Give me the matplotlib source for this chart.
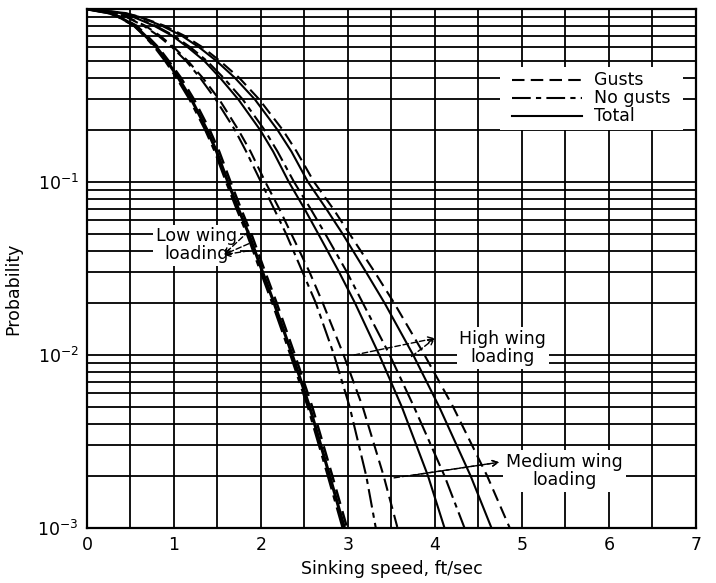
import matplotlib
matplotlib.use('Agg')
import matplotlib.pyplot as plt
from matplotlib.pyplot import MultipleLocator
from matplotlib.ticker import NullFormatter
from matplotlib.patches import Rectangle

prob = [1.0, 0.95, 0.9, 0.8, 0.7, 0.6, 0.5, 0.4, 0.3, 0.2, 0.15, 0.1,
        0.07, 0.05, 0.03, 0.02, 0.01, 0.005, 0.002, 0.001]

# low wing loading (three curves almost on top of each other)
low_total = [0, 0.25, 0.37, 0.55, 0.67, 0.80, 0.92, 1.05, 1.20, 1.38, 1.49, 1.62,
             1.74, 1.86, 2.02, 2.15, 2.36, 2.56, 2.79, 2.96]
low_gusts = [0, 0.26, 0.38, 0.57, 0.69, 0.82, 0.94, 1.08, 1.23, 1.41, 1.52, 1.65,
             1.77, 1.89, 2.05, 2.18, 2.39, 2.59, 2.82, 2.99]
low_nogusts = [0, 0.24, 0.36, 0.54, 0.66, 0.78, 0.90, 1.03, 1.18, 1.36, 1.47, 1.60,
               1.72, 1.84, 2.00, 2.13, 2.34, 2.54, 2.77, 2.94]

# medium wing loading
med_nogusts = [0, 0.31, 0.45, 0.65, 0.82, 0.98, 1.14, 1.30, 1.48, 1.70, 1.83, 2.00,
               2.15, 2.29, 2.48, 2.63, 2.84, 3.02, 3.21, 3.32]
med_gusts = [0, 0.32, 0.46, 0.67, 0.84, 1.00, 1.16, 1.33, 1.52, 1.74, 1.88, 2.05,
             2.21, 2.35, 2.56, 2.71, 2.95, 3.17, 3.41, 3.57]
med_total = [0, 0.37, 0.53, 0.77, 0.98, 1.16, 1.35, 1.53, 1.74, 1.99, 2.14, 2.32,
             2.50, 2.66, 2.90, 3.08, 3.36, 3.62, 3.92, 4.11]

# high wing loading
high_nogusts = [0, 0.38, 0.55, 0.79, 1.00, 1.19, 1.38, 1.57, 1.79, 2.04, 2.19, 2.38,
                2.57, 2.74, 2.99, 3.17, 3.48, 3.76, 4.11, 4.34]
high_total = [0, 0.42, 0.60, 0.86, 1.09, 1.29, 1.49, 1.70, 1.93, 2.19, 2.35, 2.54,
              2.75, 2.94, 3.21, 3.42, 3.75, 4.05, 4.41, 4.65]
high_gusts = [0, 0.43, 0.61, 0.89, 1.12, 1.33, 1.53, 1.75, 1.98, 2.25, 2.41, 2.61,
              2.83, 3.02, 3.31, 3.53, 3.88, 4.21, 4.60, 4.86]

x_ticks = [0, 1, 2, 3, 4, 5, 6, 7]
y_ticks = [1e-3, 1e-2, 1e-1]
y_tick_labels = [r'$\mathregular{10^{-3}}$', r'$\mathregular{10^{-2}}$', r'$\mathregular{10^{-1}}$']

DASH = (0, (6, 3))
DASHDOT = (0, (9, 2.5, 2.5, 2.5))

fig = plt.figure(figsize=(7.16, 5.83), dpi=100)
ax = fig.add_axes([0.1215, 0.0943, 0.8505, 0.8903])

ax.set_yscale('log')
ax.set_xlim(0, 7)
ax.set_ylim(1e-3, 1)
ax.xaxis.set_major_locator(MultipleLocator(1))
ax.xaxis.set_minor_locator(MultipleLocator(0.5))
ax.set_xticks(x_ticks)
ax.set_yticks(y_ticks)
ax.set_yticklabels(y_tick_labels)
ax.yaxis.set_minor_formatter(NullFormatter())
ax.tick_params(which='both', length=0, pad=6, labelsize=12.5, colors='black')
ax.grid(True, which='both', color='black', linewidth=1.3)
ax.set_axisbelow(True)
for s in ax.spines.values():
    s.set_linewidth(1.6)

# curves
ax.plot(low_total, prob, color='black', lw=2.2, ls='-', zorder=3)
ax.plot(low_gusts, prob, color='black', lw=1.8, ls=DASH, zorder=3)
ax.plot(low_nogusts, prob, color='black', lw=1.8, ls=DASHDOT, zorder=3)
ax.plot(med_nogusts, prob, color='black', lw=1.5, ls=DASHDOT, zorder=3)
ax.plot(med_gusts, prob, color='black', lw=1.5, ls=DASH, zorder=3)
ax.plot(med_total, prob, color='black', lw=1.5, ls='-', zorder=3)
ax.plot(high_nogusts, prob, color='black', lw=1.5, ls=DASHDOT, zorder=3)
ax.plot(high_total, prob, color='black', lw=1.5, ls='-', zorder=3)
ax.plot(high_gusts, prob, color='black', lw=1.5, ls=DASH, zorder=3)

# legend block
ax.add_patch(Rectangle((4.75, 0.2), 2.1, 0.26, facecolor='white', edgecolor='none', zorder=2))
ax.plot([4.88, 5.69], [0.39, 0.39], color='black', lw=1.5, ls=DASH, zorder=4)
ax.plot([4.88, 5.69], [0.305, 0.305], color='black', lw=1.5, ls=DASHDOT, zorder=4)
ax.plot([4.88, 5.69], [0.24, 0.24], color='black', lw=1.5, ls='-', zorder=4)
ax.text(5.83, 0.39, 'Gusts', fontsize=12.5, va='center', ha='left', zorder=4)
ax.text(5.83, 0.305, 'No gusts', fontsize=12.5, va='center', ha='left', zorder=4)
ax.text(5.83, 0.24, 'Total', fontsize=12.5, va='center', ha='left', zorder=4)

box = dict(facecolor='white', edgecolor='none', pad=2)
arrow = dict(arrowstyle='->', color='black', lw=1.0, ls=(0, (4, 2)), shrinkA=0, shrinkB=0)

ax.text(1.26, 0.043, 'Low wing\nloading', fontsize=12.5, ha='center', va='center',
        linespacing=1.0, bbox=box, zorder=4)
for tgt in [(1.86, 0.052), (1.86, 0.044), (1.86, 0.040)]:
    ax.annotate('', xy=(1.57, 0.038), xytext=tgt, arrowprops=arrow, zorder=4)

ax.text(4.78, 0.011, 'High wing\nloading', fontsize=12.5, ha='center', va='center',
        linespacing=1.0, bbox=box, zorder=4)
for tgt in [(3.07, 0.0100), (3.73, 0.0098)]:
    ax.annotate('', xy=(4.0, 0.0125), xytext=tgt, arrowprops=arrow, zorder=4)

ax.text(5.49, 0.00213, 'Medium wing\nloading', fontsize=12.5, ha='center', va='center',
        linespacing=1.0, bbox=box, zorder=4)
for tgt in [(3.53, 0.00195), (3.75, 0.00202)]:
    ax.annotate('', xy=(4.74, 0.0024), xytext=tgt, arrowprops=arrow, zorder=4)

ax.set_xlabel('Sinking speed, ft/sec', fontsize=12.5, labelpad=4)
ax.set_ylabel('Probability', fontsize=12.5)
ax.yaxis.set_label_coords(-0.107, 0.46)

plt.savefig('out.png', dpi=100)
plt.close()
